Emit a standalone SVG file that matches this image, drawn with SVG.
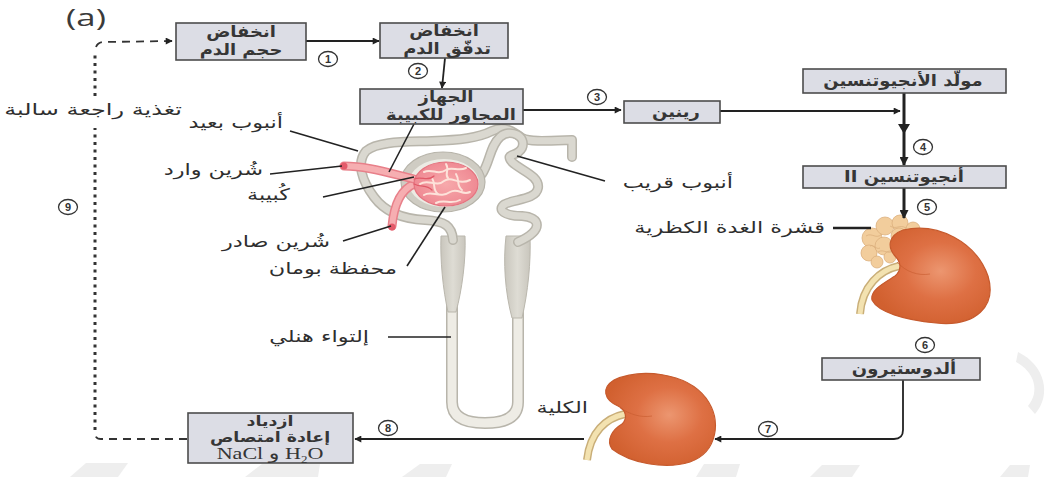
<svg xmlns="http://www.w3.org/2000/svg" width="1055" height="477" viewBox="0 0 1055 477">
  <defs>
    <style>
      .box { fill: #dcdde5; stroke: #4d4d4d; stroke-width: 1.6; }
      .bt { font-family: "DejaVu Sans", sans-serif; font-size: 15.5px; font-weight: bold; fill: #363636; text-anchor: middle; }
      .bs { font-family: "DejaVu Sans", sans-serif; font-size: 14px; font-weight: bold; fill: #363636; text-anchor: middle; }
      .lb { font-family: "DejaVu Sans", sans-serif; font-size: 16px; fill: #2e2e2e; text-anchor: end; }
      .num { fill: #ffffff; stroke: #333333; stroke-width: 1.3; }
      .numt { font-family: "Liberation Sans", sans-serif; font-size: 11px; font-weight: bold; fill: #333333; text-anchor: middle; }
      .conn { fill: none; stroke: #222222; stroke-width: 1.8; }
      .thick { fill: none; stroke: #222222; stroke-width: 3; }
      .lead { fill: none; stroke: #222222; stroke-width: 1.6; }
      .tubeO { fill: none; stroke: #b8b5ab; stroke-linecap: round; stroke-linejoin: round; }
      .tubeI { fill: none; stroke: #dad8d0; stroke-linecap: round; stroke-linejoin: round; }
      .pinkO { fill: none; stroke: #e8808a; stroke-linecap: round; stroke-linejoin: round; }
      .pinkI { fill: none; stroke: #f6aeb1; stroke-linecap: round; stroke-linejoin: round; }
      .kid { fill: url(#kidGrad); stroke: #c65a2d; stroke-width: 1.2; }
      .ureO { fill: none; stroke: #c9ae78; stroke-width: 8; stroke-linecap: butt; }
      .ureI { fill: none; stroke: #f3e2b0; stroke-width: 5; stroke-linecap: butt; }
      .adr { fill: #f2cd9c; stroke: #dcb07e; stroke-width: 0.8; }
      .ser { font-family: "Liberation Serif", "DejaVu Sans", serif; font-size: 17px; fill: #353535; text-anchor: middle; }
      .wm { fill: #eeeeee; }
    </style>
    <marker id="ah" viewBox="0 0 10 10" refX="9" refY="5" markerWidth="9" markerHeight="7" orient="auto" markerUnits="userSpaceOnUse">
      <path d="M0,0 L10,5 L0,10 z" fill="#222222"/>
    </marker>
    <marker id="ahb" viewBox="0 0 10 10" refX="9" refY="5" markerWidth="10" markerHeight="9" orient="auto" markerUnits="userSpaceOnUse">
      <path d="M0,0 L10,5 L0,10 z" fill="#222222"/>
    </marker>
    <radialGradient id="kidGrad" cx="0.58" cy="0.45" r="0.6">
      <stop offset="0" stop-color="#ec9670"/>
      <stop offset="0.5" stop-color="#de7044"/>
      <stop offset="1" stop-color="#d1602f"/>
    </radialGradient>
    <radialGradient id="gloGrad" cx="0.5" cy="0.5" r="0.55">
      <stop offset="0" stop-color="#f7a9ab"/>
      <stop offset="1" stop-color="#ee8791"/>
    </radialGradient>
    <linearGradient id="limbGrad" x1="0" y1="0" x2="1" y2="0">
      <stop offset="0" stop-color="#c9c6bd"/>
      <stop offset="0.5" stop-color="#dedcd4"/>
      <stop offset="1" stop-color="#c9c6bd"/>
    </linearGradient>
  </defs>

  <!-- faint background marks -->
  <g id="watermark">
    <path class="wm" d="M1018 352 C1045 365 1052 395 1035 414 L1028 406 C1040 392 1035 372 1016 362 Z"/>
    <path class="wm" d="M70 477 L86 463 L128 463 L118 477 Z"/>
    <path class="wm" d="M245 477 L262 464 L320 464 L318 477 Z"/>
    <path class="wm" d="M402 477 L420 464 L452 464 L446 477 Z"/>
    <path class="wm" d="M696 477 L704 464 L740 464 L736 477 Z"/>
    <path class="wm" d="M810 477 L822 465 L860 465 L852 477 Z"/>
    <path class="wm" d="M1000 477 L1010 465 L1030 465 L1028 477 Z"/>
  </g>

  <text transform="translate(86 26) scale(1.45 1)" font-family="Open Sans, sans-serif" font-size="24" fill="#3a3a3a" text-anchor="middle">(a)</text>

  <!-- nephron -->
  <g id="nephron">
    <!-- loop of Henle -->
    <path class="tubeO" stroke-width="12" d="M452 245 L452 402 Q452 423 485 423 Q518 423 518 402 L518 245"/>
    <path d="M452 245 L452 402 Q452 423 485 423 Q518 423 518 402 L518 245" fill="none" stroke="#eeece5" stroke-width="9" stroke-linecap="round"/>
    <path d="M441 236 C440 260 443 290 448 312 L456 312 C462 290 466 260 465 236 Z" fill="url(#limbGrad)" stroke="#bab7ad" stroke-width="1"/>
    <path d="M506 236 C503 262 505 292 512 318 L522 318 C528 292 531 262 530 236 Z" fill="url(#limbGrad)" stroke="#bab7ad" stroke-width="1"/>
    <!-- distal tubule around the capsule to the collecting end -->
    <path class="tubeO" stroke-width="10" d="M453 240 C452 226 445 221 425 220 C402 219 385 212 374 197 C362 181 356 163 366 151 C378 141 405 142 432 141 C460 140 478 138 492 131 C504 125 514 132 522 138 C530 142 545 141 572 140 L572 157"/>
    <path class="tubeI" stroke-width="7" d="M453 240 C452 226 445 221 425 220 C402 219 385 212 374 197 C362 181 356 163 366 151 C378 141 405 142 432 141 C460 140 478 138 492 131 C504 125 514 132 522 138 C530 142 545 141 572 140 L572 157"/>
    <!-- proximal tubule -->
    <path class="tubeO" stroke-width="10" d="M482 174 C490 162 490 146 500 137 C510 128 527 136 522 148 C517 158 504 152 512 162 C520 170 540 176 538 188 C536 200 514 199 505 204 C496 210 505 216 522 216 C540 217 545 230 518 242"/>
    <path class="tubeI" stroke-width="7" d="M482 174 C490 162 490 146 500 137 C510 128 527 136 522 148 C517 158 504 152 512 162 C520 170 540 176 538 188 C536 200 514 199 505 204 C496 210 505 216 522 216 C540 217 545 230 518 242"/>
    <!-- Bowman's capsule -->
    <ellipse cx="443" cy="182" rx="42" ry="30" fill="#cfccc3" stroke="#b7b4aa" stroke-width="1.2"/>
    <ellipse cx="444" cy="183" rx="35" ry="24" fill="#ecebe4"/>
    <!-- efferent arteriole -->
    <path class="pinkO" stroke-width="9" d="M414 184 C400 190 394 205 392 226"/>
    <path class="pinkI" stroke-width="6" d="M414 184 C400 190 394 205 392 226"/>
    <circle cx="392" cy="227" r="3.5" fill="#e45a6a"/>
    <!-- afferent arteriole -->
    <path class="pinkO" stroke-width="9" d="M344 166 C365 166 385 172 414 179"/>
    <path class="pinkI" stroke-width="6" d="M344 166 C365 166 385 172 414 179"/>
    <circle cx="344" cy="166" r="3.5" fill="#e45a6a"/>
    <!-- glomerulus -->
    <ellipse cx="446" cy="184" rx="32" ry="22" fill="url(#gloGrad)" stroke="#e4737f" stroke-width="1.2"/>
    <g fill="none" stroke="#fde2da" stroke-width="2" stroke-linecap="round">
      <path d="M424 172 C432 168 438 176 446 170 C452 166 458 172 466 168"/>
      <path d="M420 184 C428 178 436 188 444 181 C452 175 458 186 470 180"/>
      <path d="M424 195 C432 190 440 199 450 192 C458 187 462 196 470 192"/>
      <path d="M436 203 C444 199 452 205 460 200"/>
      <path d="M432 178 C436 184 432 190 438 194"/>
      <path d="M456 174 C460 180 456 186 462 190"/>
      <path d="M446 164 C450 170 444 174 448 178"/>
    </g>
    <g fill="none" stroke="#e05a68" stroke-width="1.2" stroke-linecap="round">
      <path d="M414 179 C422 176 428 182 434 176"/>
      <path d="M414 184 C422 188 426 184 432 190"/>
    </g>
  </g>

  <!-- adrenal gland and kidney -->
  <g id="kidney-adrenal">
    <g id="adrenal">
      <circle class="adr" cx="872" cy="238" r="10"/>
      <circle class="adr" cx="869" cy="253" r="8"/>
      <circle class="adr" cx="885" cy="226" r="9"/>
      <circle class="adr" cx="900" cy="223" r="8"/>
      <circle class="adr" cx="913" cy="229" r="7"/>
      <circle class="adr" cx="884" cy="246" r="9"/>
      <circle class="adr" cx="877" cy="262" r="6"/>
      <circle class="adr" cx="899" cy="236" r="8"/>
      <circle class="adr" cx="890" cy="257" r="6"/>
      <path d="M866 236 C872 232 876 240 882 234 M878 252 C884 248 888 256 894 250 M890 226 C896 230 900 224 906 228 M870 246 C874 244 876 250 880 248" fill="none" stroke="#dcb07e" stroke-width="0.8"/>
    </g>
    <path class="ureO" d="M899 266 C880 270 862 286 860 314"/>
    <path class="ureI" d="M899 266 C880 270 862 286 860 314"/>
    <path class="kid" d="M903 230 C938 222 976 242 988 276 C997 306 976 327 936 323 C904 320 878 312 872 300 C870 290 884 283 895 276 C902 270 901 262 895 256 C888 248 887 236 903 230 Z"/>
    <path d="M897 262 C906 272 918 276 930 274" fill="none" stroke="#c65a2d" stroke-width="1" opacity="0.6"/>
  </g>

  <g id="kidney">
    <path class="ureO" d="M625 414 C606 418 590 432 587 460"/>
    <path class="ureI" d="M625 414 C606 418 590 432 587 460"/>
    <path class="kid" d="M614 380 C640 368 686 372 706 398 C722 420 718 452 690 462 C665 470 630 463 612 449 C606 440 612 430 622 424 C628 418 626 410 618 406 C604 400 601 388 614 380 Z"/>
    <path d="M620 408 C630 414 640 418 652 416" fill="none" stroke="#c65a2d" stroke-width="1" opacity="0.6"/>
  </g>

  <!-- connectors -->
  <g id="connectors">
    <line class="conn" x1="306" y1="41" x2="379" y2="41" marker-end="url(#ah)"/>
    <line class="conn" x1="445" y1="58" x2="442" y2="88" marker-end="url(#ah)"/>
    <line class="conn" x1="523" y1="110" x2="621" y2="110" marker-end="url(#ah)"/>
    <line class="conn" x1="720" y1="111" x2="900" y2="111" marker-end="url(#ah)"/>
    <line class="thick" x1="904" y1="93" x2="904" y2="165" marker-end="url(#ahb)"/>
    <path d="M898 124 L910 124 L904 134 Z" fill="#222222"/>
    <line class="thick" x1="904" y1="188" x2="904" y2="218" marker-end="url(#ahb)"/>
    <path class="conn" d="M903 380 L903 430 Q903 439 894 439 L715 439" marker-end="url(#ah)"/>
    <line class="conn" x1="584" y1="439" x2="355" y2="439" marker-end="url(#ah)"/>
    <!-- negative feedback path -->
    <path d="M187 439 L101 439 Q95 439 95 433" fill="none" stroke="#333333" stroke-width="1.8" stroke-dasharray="8 6"/>
    <line x1="95" y1="430" x2="95" y2="128" stroke="#333333" stroke-width="3" stroke-dasharray="3 4.5"/>
    <line x1="95" y1="96" x2="95" y2="52" stroke="#333333" stroke-width="3" stroke-dasharray="3 4.5"/>
    <path d="M96 47 Q98 42 104 42 L172 41" fill="none" stroke="#333333" stroke-width="1.8" stroke-dasharray="8 6" marker-end="url(#ah)"/>
    <!-- label leaders -->
    <line class="lead" x1="290" y1="131" x2="358" y2="151"/>
    <line class="lead" x1="270" y1="174" x2="342" y2="166"/>
    <line class="lead" x1="323" y1="197" x2="414" y2="177"/>
    <line class="lead" x1="343" y1="241" x2="391" y2="226"/>
    <line class="lead" x1="407" y1="266" x2="445" y2="207"/>
    <line class="lead" x1="388" y1="337" x2="451" y2="337"/>
    <line class="lead" x1="605" y1="181" x2="517" y2="156"/>
    <line class="lead" x1="414" y1="124" x2="389" y2="172"/>
    <line x1="833" y1="228" x2="871" y2="228" stroke="#222222" stroke-width="2.5"/>
  </g>

  <!-- nodes -->
  <g id="n-volume">
    <rect class="box" x="176" y="23" width="130" height="37"/>
    <text class="bt" transform="translate(241 37) scale(1.16 1)">انخفاض</text>
    <text class="bt" transform="translate(241 55) scale(1.16 1)">حجم الدم</text>
  </g>
  <g id="n-flow">
    <rect class="box" x="380" y="23" width="128" height="35"/>
    <text class="bt" transform="translate(444 36) scale(1.16 1)">انخفاض</text>
    <text class="bt" transform="translate(447 54) scale(1.16 1)">تدفّق الدم</text>
  </g>
  <g id="n-jga">
    <rect class="box" x="360" y="89" width="163" height="35"/>
    <text class="bt" transform="translate(446 102) scale(1.16 1)">الجهاز</text>
    <text class="bt" transform="translate(451 120) scale(1.16 1)">المجاور للكبيبة</text>
  </g>
  <g id="n-renin">
    <rect class="box" x="624" y="101" width="96" height="22"/>
    <text class="bt" transform="translate(676 117) scale(1.16 1)">رينين</text>
  </g>
  <g id="n-angiotensinogen">
    <rect class="box" x="803" y="69" width="203" height="24"/>
    <text class="bt" transform="translate(903 86) scale(1.16 1)">مولّد الأنجيوتنسين</text>
  </g>
  <g id="n-angiotensin2">
    <rect class="box" x="803" y="166" width="203" height="22"/>
    <text class="bt" transform="translate(904 182) scale(1.16 1)">II أنجيوتنسين</text>
  </g>
  <g id="n-aldosterone">
    <rect class="box" x="822" y="358" width="158" height="22"/>
    <text class="bt" transform="translate(904 374) scale(1.16 1)">ألدوستيرون</text>
  </g>
  <g id="n-reabsorption">
    <rect class="box" x="188" y="413" width="165" height="50"/>
    <text class="bs" transform="translate(270 426) scale(1.24 1)">ازدياد</text>
    <text class="bs" transform="translate(270 442) scale(1.24 1)">إعادة امتصاص</text>
    <text class="ser" transform="translate(270 459) scale(1.3 1)">NaCl و H<tspan font-size="10" dy="4">2</tspan><tspan dy="-4">O</tspan></text>
  </g>

  <!-- step numbers -->
  <g id="steps">
    <ellipse class="num" cx="328" cy="59" rx="9.5" ry="7.5"/><text class="numt" x="328" y="63">1</text>
    <ellipse class="num" cx="418" cy="71" rx="9.5" ry="7.5"/><text class="numt" x="418" y="75">2</text>
    <ellipse class="num" cx="597" cy="97" rx="9.5" ry="7.5"/><text class="numt" x="597" y="101">3</text>
    <ellipse class="num" cx="923" cy="147" rx="9.5" ry="7.5"/><text class="numt" x="923" y="151">4</text>
    <ellipse class="num" cx="927" cy="207" rx="9.5" ry="7.5"/><text class="numt" x="927" y="211">5</text>
    <ellipse class="num" cx="925" cy="345" rx="9.5" ry="7.5"/><text class="numt" x="925" y="349">6</text>
    <ellipse class="num" cx="768" cy="429" rx="9.5" ry="7.5"/><text class="numt" x="768" y="433">7</text>
    <ellipse class="num" cx="388" cy="428" rx="9.5" ry="7.5"/><text class="numt" x="388" y="432">8</text>
    <ellipse class="num" cx="68" cy="207" rx="9.5" ry="7.5"/><text class="numt" x="68" y="211">9</text>
  </g>

  <!-- labels -->
  <g id="labels">
    <text class="lb" transform="translate(182 115) scale(1.5 1)">تغذية راجعة سالبة</text>
    <text class="lb" transform="translate(283 128) scale(1.4 1)">أنبوب بعيد</text>
    <text class="lb" transform="translate(263 175) scale(1.4 1)">شُرين وارد</text>
    <text class="lb" transform="translate(290 200) scale(1.4 1)">كُبيبة</text>
    <text class="lb" transform="translate(330 247) scale(1.4 1)">شُرين صادر</text>
    <text class="lb" transform="translate(397 274) scale(1.4 1)">محفظة بومان</text>
    <text class="lb" transform="translate(369 342) scale(1.4 1)">إلتواء هنلي</text>
    <text class="lb" transform="translate(733 188) scale(1.4 1)">أنبوب قريب</text>
    <text class="lb" transform="translate(825 233) scale(1.4 1)">قشرة الغدة الكظرية</text>
    <text class="lb" transform="translate(588 413) scale(1.4 1)">الكلية</text>
  </g>
</svg>
